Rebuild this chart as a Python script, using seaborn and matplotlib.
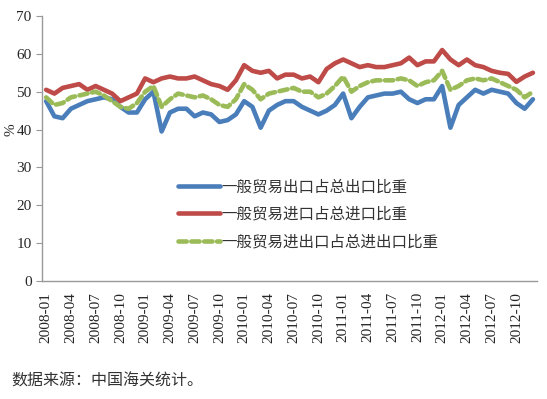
import pandas as pd
import matplotlib.pyplot as plt
import seaborn as sns

# 月份标签 2008-01 ~ 2012-12
months = [f"{y}-{m:02d}" for y in range(2008, 2013) for m in range(1, 13)]

# 一般贸易出口占总出口比重
export_share = [47.5, 43.5, 43.0, 45.5, 46.5, 47.5, 48.0, 48.5, 48.0, 46.0, 44.5, 44.5,
                48.0, 50.0, 39.5, 44.5, 45.5, 45.5, 43.5, 44.5, 44.0, 42.0, 42.5, 44.0,
                47.5, 46.0, 40.5, 45.0, 46.5, 47.5, 47.5, 46.0, 45.0, 44.0, 45.0, 46.5,
                49.5, 43.0, 46.0, 48.5, 49.0, 49.5, 49.5, 50.0, 48.0, 47.0, 48.0, 48.0,
                51.5, 40.5, 46.5, 48.5, 50.5, 49.5, 50.5, 50.0, 49.5, 47.0, 45.5, 48.0]

# 一般贸易进口占总进口比重
import_share = [50.5, 49.5, 51.0, 51.5, 52.0, 50.5, 51.5, 50.5, 49.5, 47.5, 48.5, 49.5,
                53.5, 52.5, 53.5, 54.0, 53.5, 53.5, 54.0, 53.0, 52.0, 51.5, 50.5, 53.0,
                57.0, 55.5, 55.0, 55.5, 53.5, 54.5, 54.5, 53.5, 54.0, 52.5, 56.0, 57.5,
                58.5, 57.5, 56.5, 57.0, 56.5, 56.5, 57.0, 57.5, 59.0, 57.0, 58.0, 58.0,
                61.0, 58.5, 57.0, 58.5, 57.0, 56.5, 55.5, 55.0, 54.7, 52.6, 54.0, 55.0]

# 一般贸易进出口占总进出口比重
total_share = [48.5, 46.5, 47.0, 48.5, 49.0, 49.5, 50.0, 49.0, 47.5, 46.0, 45.5, 47.0,
               50.0, 51.5, 46.0, 48.0, 49.5, 49.0, 48.5, 49.0, 48.0, 46.5, 46.0, 48.0,
               52.0, 50.5, 48.0, 49.5, 50.0, 50.5, 51.0, 50.0, 50.0, 48.5, 49.5, 51.5,
               54.0, 50.0, 51.5, 52.5, 53.0, 53.0, 53.0, 53.5, 53.0, 51.5, 52.5, 53.0,
               55.5, 50.5, 51.5, 53.0, 53.5, 53.0, 53.5, 52.5, 51.5, 50.5, 48.5, 50.0]

labels = ["一般贸易出口占总出口比重", "一般贸易进口占总进口比重", "一般贸易进出口占总进出口比重"]
colors = ["#4A7EBB", "#BE4B48", "#9BBB59"]

df = pd.DataFrame({"idx": range(len(months)), "month": months,
                   "export": export_share, "import": import_share, "total": total_share})

sns.set_style("white")
plt.rcParams['font.family'] = ['Liberation Serif', 'Noto Sans CJK SC']

fig = plt.figure(figsize=(5.47, 3.99), dpi=100)
ax = fig.add_axes([0.0768, 0.2957, 0.905, 0.6643])

for col, lab, c in zip(["export", "import", "total"], labels, colors):
    sns.lineplot(data=df, x="idx", y=col, ax=ax, color=c, linewidth=3.3, label=lab)

# 绿色虚线
green = ax.get_lines()[2]
green.set_dashes([1.8, 1.0])
green.set_dash_capstyle("round")

ax.set_xlim(-0.5, len(months) - 0.5)
ax.set_ylim(0, 70)
ax.set_yticks(range(0, 71, 10))
ax.set_xticks(df["idx"][::3])
ax.set_xticklabels(df["month"][::3], rotation=90)
ax.set_xticks([i - 0.5 for i in range(0, len(months) + 1, 3)], minor=True)
ax.tick_params(axis="x", which="major", length=0, pad=8, labelsize=11)
ax.tick_params(axis="x", which="minor", length=4, color="#999999", direction="out")
ax.tick_params(axis="y", length=4, color="#999999", direction="out", labelsize=11, left=True)
ax.set_xlabel("")
ax.set_ylabel("")
fig.text(0.008, 0.675, "%", fontsize=11, rotation=90, va="center", ha="left")

for s in ["top", "right"]:
    ax.spines[s].set_visible(False)
for s in ["left", "bottom"]:
    ax.spines[s].set_color("#999999")
    ax.spines[s].set_linewidth(1.0)

leg = ax.legend(loc="upper left", bbox_to_anchor=(0.275, 0.385), frameon=False,
                fontsize=11.2, handlelength=2.7, handletextpad=0.1,
                labelspacing=0.75, borderpad=0, borderaxespad=0)
for t in leg.get_texts():
    t.set_color("#333333")

fig.text(0.02, 0.035, "数据来源：中国海关统计。", fontsize=11.5, color="#333333")

plt.savefig("out.png", dpi=100)
